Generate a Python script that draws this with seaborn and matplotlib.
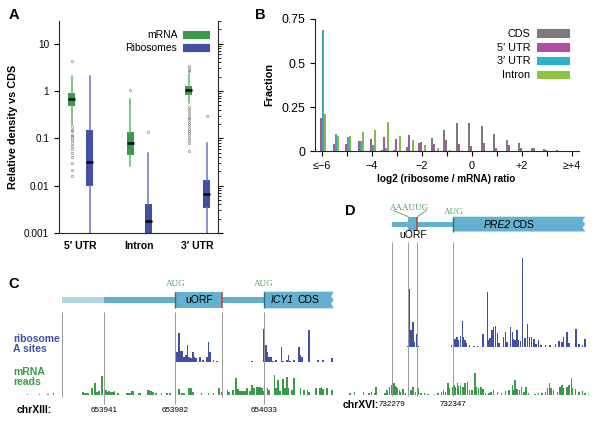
import numpy as np
import pandas as pd
import matplotlib
matplotlib.use("Agg")
import matplotlib.pyplot as plt
import seaborn as sns
from matplotlib.patches import Patch, Rectangle, Polygon
from matplotlib.ticker import FixedLocator, LogLocator, NullFormatter

# ---------------- A: relative density vs CDS (box statistics) ----------------
a_regions = ["5′ UTR", "Intron", "3′ UTR"]
mrna_q1 = [0.48, 0.044, 0.81]
mrna_med = [0.69, 0.078, 1.03]
mrna_q3 = [0.92, 0.137, 1.25]
mrna_lo = [0.19, 0.026, 0.55]
mrna_hi = [2.05, 0.66, 2.3]
mrna_out = [[4.3, 0.17, 0.15, 0.14, 0.12, 0.11, 0.1, 0.09, 0.08, 0.07, 0.06, 0.05, 0.04, 0.03, 0.021, 0.016],
            [1.07],
            [3.4, 3.0, 2.8, 2.6, 0.45, 0.4, 0.35, 0.3, 0.27, 0.25, 0.22, 0.2, 0.18, 0.16, 0.14,
             0.13, 0.12, 0.1, 0.09, 0.08, 0.055]]
ribo_q1 = [0.0096, 0.0008, 0.0034]
ribo_med = [0.031, 0.0018, 0.0066]
ribo_q3 = [0.149, 0.0041, 0.0133]
ribo_lo = [0.0001, 0.0001, 0.0001]
ribo_hi = [2.1, 0.048, 0.078]
ribo_out = [[], [0.137], [0.29]]

# ---------------- B: log2 (ribosome / mRNA) ratio histogram ----------------
b_bins = [-6, -5.5, -5, -4.5, -4, -3.5, -3, -2.5, -2, -1.5, -1, -0.5, 0, 0.5, 1, 1.5, 2, 2.5, 3, 3.5, 4]
cds_frac = [0, 0, 0, 0, 0, 0.006, 0.005, 0.022, 0.046, 0.076, 0.12, 0.157, 0.158, 0.14, 0.096,
            0.064, 0.045, 0.017, 0.01, 0.003, 0.002]
utr5_frac = [0.186, 0.04, 0.04, 0.055, 0.067, 0.078, 0.066, 0.089, 0.051, 0.04, 0.062, 0.038,
             0.028, 0.047, 0.015, 0.032, 0.016, 0.017, 0.003, 0.001, 0]
utr3_frac = [0.69, 0.097, 0.082, 0.057, 0.034, 0.015, 0, 0, 0, 0, 0, 0, 0, 0, 0, 0, 0, 0, 0, 0, 0]
intron_frac = [0.21, 0.085, 0.085, 0.108, 0.122, 0.167, 0.085, 0.063, 0.032, 0.019, 0.004,
               0, 0, 0, 0, 0, 0, 0, 0, 0, 0]
b_regions = ["CDS", "5′ UTR", "3′ UTR", "Intron"]
b_tick_pos = [-6, -4, -2, 0, 2, 4]
b_tick_labels = ["≤−6", "−4", "−2", "0", "+2", "≥+4"]

# ---------------- C: ICY1 locus (chrXIII) ----------------
c_ref = 653941
c_light_start = 653917
c_uorf_start = 653982
c_uorf_end = 654009
c_cds_start = 654033
c_end = 654073
c_coords = [653941, 653982, 654033]
c_ribo_off = [42, 43, 44, 45, 46, 47, 48, 49, 50, 51, 52, 53, 55, 57, 59, 60, 61, 63, 65,
              85, 92, 93, 94, 95, 96, 97, 99, 102, 103, 105, 106, 107, 109, 112, 113, 114, 118, 123, 126, 131]
c_ribo_h = [10, 29, 11, 11, 5, 7, 17, 5, 4, 10, 5, 4, 5, 2, 5, 20, 10, 2, 1.5,
            1.5, 33, 17, 10, 5, 5, 1.5, 2, 15, 1.5, 2, 7, 1.5, 2, 15, 7, 5, 32, 2, 2, 4.5]
c_mrna_off = [-44, -37, -32, -29, -12, -11, -10, -9, -7, -5, -4, -3, -1, 1, 2, 3, 4, 5, 6, 8,
              13, 14, 15, 16, 17, 20, 21, 25, 26, 27, 28, 30, 33, 36, 38, 43, 45, 46, 49, 50,
              51, 56, 60, 63, 66, 68, 71, 72, 74, 76, 77, 78, 79, 80, 81, 82, 84, 85, 86, 88,
              89, 90, 91, 92, 94, 95, 98, 99, 100, 101, 103, 104, 105, 106, 108, 109, 113, 115, 117, 118,
              122, 124, 125, 126, 128, 131]
c_mrna_h = [1.5, 1.5, 1.5, 2, 3, 2, 2, 2, 7, 12, 3, 4, 19, 5, 3, 4, 3, 3, 4, 2,
            2, 2, 2, 4, 4, 2, 2, 5, 5, 4, 3, 2, 2, 2, 2, 6, 2, 2, 7, 7,
            3, 2, 2, 2, 7, 3, 5, 3, 5, 17, 6, 4, 4, 4, 4, 7, 4, 10, 7, 8,
            8, 8, 7, 4, 7, 5, 20, 7, 15, 4, 16, 7, 18, 7, 5, 17, 7, 5, 5, 3,
            7, 7, 8, 6, 7, 3]

# ---------------- D: PRE2 locus (chrXVI) ----------------
d_ref = 732279
d_uorf_start = 732297
d_uorf_end = 732307
d_cds_start = 732347
d_end = 732494
d_coords = [732279, 732347]
d_ribo_off = [17, 19, 20, 21, 22, 23, 24, 27, 29, 66, 68, 70, 72, 74, 76, 78, 79, 81, 82, 86,
              91, 95, 101, 106, 107, 109, 111, 113, 115, 117, 119, 124, 126, 128, 132, 134, 135, 137, 139, 141,
              143, 145, 148, 151, 153, 155, 158, 160, 163, 166, 171, 176, 182, 186, 189, 191, 195, 197, 205, 208,
              212, 215]
d_ribo_h = [1, 58, 7, 17, 7, 25, 5, 13, 1, 2, 4, 8, 10, 7, 11, 26, 10, 7, 4, 2,
            1.5, 1.5, 13, 55, 7, 9, 17, 20, 21, 14, 4, 10, 15, 5, 20, 15, 8, 7, 17, 7,
            6, 89, 9, 23, 10, 10, 8, 3, 7, 2, 2, 2, 3, 6, 5, 10, 15, 4, 18, 3,
            2, 8]
d_mrna_off = [-67, -47, -42, -32, -26, -23, -20, -18, -8, -6, -3, -1, 0, 2, 3, 4, 6, 8, 9, 12,
              15, 18, 21, 23, 26, 29, 32, 36, 40, 47, 51, 55, 57, 59, 62, 64, 67, 69, 70, 73,
              74, 76, 79, 81, 84, 86, 89, 92, 94, 96, 99, 101, 104, 108, 110, 113, 117, 122, 126, 130,
              134, 135, 137, 139, 142, 144, 147, 149, 152, 159, 163, 167, 171, 173, 175, 177, 180, 184, 187, 189,
              191, 195, 197, 200, 201, 204, 208, 212, 215, 219]
d_mrna_h = [5, 2, 3, 3, 2, 3, 2, 8, 2, 5, 8, 10, 38, 12, 9, 8, 7, 5, 3, 6,
            2, 8, 5, 8, 3, 7, 2, 2, 1.5, 1.5, 2, 3, 5, 3, 12, 7, 8, 10, 8, 12,
            9, 10, 8, 12, 13, 5, 5, 22, 8, 7, 8, 6, 2, 2, 3, 5, 3, 2, 4, 5,
            10, 5, 15, 6, 5, 8, 3, 8, 2, 1.5, 2, 2, 3, 7, 12, 7, 5, 3, 8, 10,
            7, 8, 10, 17, 7, 6, 3, 4, 2, 1.5]

# ---------------- style ----------------
GREEN = "#3b9b4b"
GREEN_L = "#74c17f"
BLUE = "#3f50a6"
BLUE_L = "#8088c8"
B_COLORS = ["#7b7b7b", "#b04ea3", "#2db1c9", "#8cc63f"]
GENE = "#63b0d0"
GENE_LIGHT = "#b2d8e6"
GENE_DARK = "#2d6f82"
STOP_RED = "#c0473b"
GUIDE = "#9a9a9a"
AUG_GREEN = "#4f9b62"

sns.set_theme(context="paper", style="ticks")
plt.rcParams["font.family"] = ["Liberation Sans", "DejaVu Sans"]
plt.rcParams["font.size"] = 7.5
plt.rcParams["axes.linewidth"] = 0.8
plt.rcParams["text.color"] = "black"
plt.rcParams["axes.labelcolor"] = "black"
plt.rcParams["xtick.color"] = "black"
plt.rcParams["ytick.color"] = "black"

W, H = 600, 421
fig = plt.figure(figsize=(W / 100, H / 100), dpi=100)


def px_axes(x0, y0, x1, y1):
    return fig.add_axes([x0 / W, 1 - y1 / H, (x1 - x0) / W, (y1 - y0) / H])


def px_text(x, y, s, **kw):
    fig.text(x / W, 1 - y / H, s, **kw)


# ================= panel A =================
axA = px_axes(59, 21, 218, 233)
pos = np.arange(len(a_regions))


def box_stats(q1, med, q3, lo, hi, out):
    return [dict(q1=a, med=b, q3=c, whislo=d, whishi=e, fliers=f)
            for a, b, c, d, e, f in zip(q1, med, q3, lo, hi, out)]


for st, off, col, wcol in [
    (box_stats(mrna_q1, mrna_med, mrna_q3, mrna_lo, mrna_hi, mrna_out), -0.15, GREEN, GREEN_L),
    (box_stats(ribo_q1, ribo_med, ribo_q3, ribo_lo, ribo_hi, ribo_out), 0.16, BLUE, BLUE_L),
]:
    axA.bxp(st, positions=pos + off, widths=0.12, patch_artist=True, showcaps=False,
            boxprops=dict(facecolor=col, edgecolor="none", linewidth=0),
            whiskerprops=dict(color=wcol, linewidth=1.3),
            medianprops=dict(color="black", linewidth=1.8, solid_capstyle="butt"),
            flierprops=dict(marker="o", markersize=1.6, markerfacecolor="none",
                            markeredgecolor="#8c8c8c", markeredgewidth=0.5),
            manage_ticks=False)

axA.set_yscale("log")
axA.set_ylim(1e-3, 30)
axA.set_xlim(-0.37, 2.35)
axA.yaxis.set_major_locator(FixedLocator([1e-3, 1e-2, 1e-1, 1, 10]))
axA.set_yticklabels(["0.001", "0.01", "0.1", "1", "10"], fontsize=7.2)
axA.yaxis.set_minor_locator(LogLocator(base=10, subs=np.arange(2, 10)))
axA.yaxis.set_minor_formatter(NullFormatter())
axA.tick_params(axis="y", which="major", left=True, right=True, direction="out", length=3.5, width=0.8)
axA.tick_params(axis="y", which="minor", left=False, right=True, direction="out", length=2, width=0.6)
axA.set_xticks(pos)
axA.set_xticklabels(a_regions, fontweight="bold", fontsize=7.5)
axA.tick_params(axis="x", length=0, pad=6)
axA.spines["top"].set_visible(False)
axA.set_ylabel("Relative density vs CDS", fontweight="bold", fontsize=7.8, labelpad=4)
axA.legend(handles=[Patch(color=GREEN, label="mRNA"), Patch(color=BLUE, label="Ribosomes")],
           loc="upper right", frameon=False, markerfirst=False, handlelength=2.5,
           fontsize=7.5, labelspacing=0.25, handletextpad=0.5)

# ================= panel B =================
axB = px_axes(313, 19, 579, 151)
df_b = pd.DataFrame({"log2_ratio": b_bins, "CDS": cds_frac, "5′ UTR": utr5_frac,
                     "3′ UTR": utr3_frac, "Intron": intron_frac})
df_b = df_b.melt(id_vars="log2_ratio", var_name="region", value_name="fraction")
sns.barplot(data=df_b, x="log2_ratio", y="fraction", hue="region", hue_order=b_regions,
            palette=B_COLORS, native_scale=True, width=0.64, errorbar=None,
            linewidth=0, legend=False, ax=axB)
axB.set_xlim(-6.36, 4.28)
axB.set_ylim(0, 0.75)
axB.set_xticks(b_tick_pos)
axB.set_xticklabels(b_tick_labels, fontsize=7.8)
axB.set_xticks([-5, -3, -1, 1, 3], minor=True)
axB.set_yticks([0, 0.25, 0.5, 0.75])
axB.set_yticklabels(["0", "0.25", "0.5", "0.75"], fontsize=7.8)
axB.tick_params(which="both", direction="out", length=3.5, width=0.8)
sns.despine(ax=axB)
axB.spines["left"].set_position(("data", -6.28))
axB.set_xlabel("log2 (ribosome / mRNA) ratio", fontweight="bold", fontsize=7.2, labelpad=2)
axB.set_ylabel("Fraction", fontweight="bold", fontsize=7.8, labelpad=5)
axB.legend(handles=[Patch(color=c, label=r) for r, c in zip(b_regions, B_COLORS)],
           loc="upper right", frameon=False, markerfirst=False, handlelength=3.0,
           fontsize=7.8, labelspacing=0.35, handletextpad=0.6)


# ================= gene panels helpers =================
def locus_axes(x0, y0, x1, y1, ref, ref_px, px_per_nt):
    ax = px_axes(x0, y0, x1, y1)
    ax.set_xlim(ref + (x0 - ref_px) / px_per_nt, ref + (x1 - ref_px) / px_per_nt)
    ax.set_ylim(0, y1 - y0)  # vertical unit: one pixel
    ax.set_facecolor("none")
    ax.axis("off")
    return ax


def cds_shape(ax, start, end, y0, y1, px_per_nt):
    jag = 2.5 / px_per_nt
    ym = (y0 + y1) / 2
    pts = [(start, y0), (start, y1), (end, y1), (end - jag, ym + 3.5), (end, ym),
           (end - jag, ym - 3.5), (end, y0)]
    ax.add_patch(Polygon(pts, closed=True, fc=GENE, lw=0))


# ================= panel C =================
c_px_nt = 1.74
axC = locus_axes(0, 270, 345, 421, c_ref, 104, c_px_nt)
thin0, thin1 = 118, 124
bx0, bx1 = 112.7, 129.3
axC.add_patch(Rectangle((c_light_start, thin0), c_ref - c_light_start, thin1 - thin0, fc=GENE_LIGHT, lw=0))
axC.add_patch(Rectangle((c_ref, thin0), c_cds_start - c_ref, thin1 - thin0, fc=GENE, lw=0))
axC.add_patch(Rectangle((c_uorf_start, bx0), c_uorf_end - c_uorf_start, bx1 - bx0, fc=GENE, lw=0))
cds_shape(axC, c_cds_start, c_end, bx0, bx1, c_px_nt)
axC.vlines([c_uorf_start, c_cds_start], bx0, bx1, color=GENE_DARK, lw=1)
axC.vlines([c_uorf_end], bx0, bx1, color=STOP_RED, lw=1.2)
axC.vlines([c_light_start, c_uorf_end], 24, 109, color=GUIDE, lw=0.7)
axC.vlines(c_coords, 17, 109, color=GUIDE, lw=0.7)
axC.bar(c_ref + np.array(c_ribo_off), c_ribo_h, bottom=59, width=1.0, color=BLUE, lw=0, antialiased=False)
axC.bar(c_ref + np.array(c_mrna_off), c_mrna_h, bottom=26, width=1.0, color=GREEN, lw=0, antialiased=False)
for x in [c_uorf_start, c_cds_start]:
    axC.text(x, 137, "AUG", family=["Liberation Serif", "DejaVu Serif"], color=AUG_GREEN,
             fontsize=6.5, ha="center", va="center")
axC.text((c_uorf_start + c_uorf_end) / 2, 121, "uORF", fontsize=7.5, ha="center", va="center")
c_mid = (c_cds_start + c_end) / 2
axC.text(c_mid - 3, 121, "ICY1", fontsize=7.5, style="italic", ha="right", va="center")
axC.text(c_mid - 1, 121, "CDS", fontsize=7.5, ha="left", va="center")
for x in c_coords:
    axC.text(x, 11, str(x), fontsize=5.8, ha="center", va="center")
px_text(17, 410, "chrXIII:", fontsize=7.5, fontweight="bold", ha="left", va="center")
px_text(13, 343.5, "ribosome\nA sites", fontsize=7.5, fontweight="bold", color=BLUE,
        ha="left", va="center", linespacing=1.0)
px_text(13, 377, "mRNA\nreads", fontsize=7.5, fontweight="bold", color=GREEN,
        ha="left", va="center", linespacing=1.0)

# ================= panel D =================
d_px_nt = 0.897
axD = locus_axes(330, 195, 600, 421, d_ref, 392.3, d_px_nt)
thin0, thin1 = 194.3, 199.3
bx0, bx1 = 189.5, 204.3
axD.add_patch(Rectangle((d_ref, thin0), d_cds_start - d_ref, thin1 - thin0, fc=GENE, lw=0))
axD.add_patch(Rectangle((d_uorf_start, bx0 + 1), d_uorf_end - d_uorf_start, bx1 - bx0 - 1, fc=GENE, lw=0))
cds_shape(axD, d_cds_start, d_end, bx0, bx1, d_px_nt)
axD.vlines([d_cds_start], bx0, bx1, color=GENE_DARK, lw=1)
axD.vlines([d_uorf_end - 1], bx0 + 1, bx1, color=STOP_RED, lw=1.2)
axD.vlines([d_ref, d_uorf_start, d_uorf_end, d_cds_start], 25, 179, color=GUIDE, lw=0.7)
axD.bar(d_ref + np.array(d_ribo_off), d_ribo_h, bottom=74, width=1.6, color=BLUE, lw=0, antialiased=False)
axD.bar(d_ref + np.array(d_mrna_off), d_mrna_h, bottom=26, width=1.6, color=GREEN, lw=0, antialiased=False)
axD.text(d_uorf_start + 1, 213.5, "AAAUUG", family=["Liberation Serif", "DejaVu Serif"],
         color=AUG_GREEN, fontsize=6.5, ha="center", va="center")
axD.plot([d_uorf_start - 17, d_uorf_start], [210.5, bx1], color=AUG_GREEN, lw=0.6)
axD.plot([d_uorf_end + 10, d_uorf_end], [210.5, bx1], color=AUG_GREEN, lw=0.6)
axD.text(d_cds_start, 209, "AUG", family=["Liberation Serif", "DejaVu Serif"], color=AUG_GREEN,
         fontsize=6.5, ha="center", va="center")
axD.text((d_uorf_start + d_uorf_end) / 2, 185.5, "uORF", fontsize=7.5, ha="center", va="center")
d_mid = (d_cds_start + d_end) / 2
axD.text(d_mid - 10, 196.5, "PRE2", fontsize=7.5, style="italic", ha="right", va="center")
axD.text(d_mid - 7, 196.5, "CDS", fontsize=7.5, ha="left", va="center")
for x in d_coords:
    axD.text(x, 16, str(x), fontsize=5.8, ha="center", va="center")
px_text(343, 405, "chrXVI:", fontsize=7.5, fontweight="bold", ha="left", va="center")

# ================= panel letters =================
for x, y, s in [(14, 15, "A"), (260, 15, "B"), (14, 284, "C"), (350, 211, "D")]:
    px_text(x, y, s, fontsize=10.5, fontweight="bold", ha="center", va="center")

fig.savefig("out.png", dpi=100, facecolor="white")
